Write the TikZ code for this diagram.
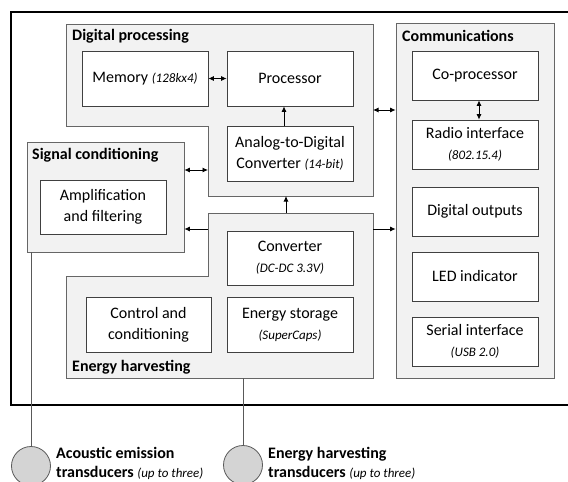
\documentclass[tikz,border=0pt]{standalone}
\usepackage{fontspec}
\setmainfont{Carlito}
\usetikzlibrary{arrows.meta}
\begin{document}
\begin{tikzpicture}[x=1pt,y=-1pt,
  group/.style={draw=black!60, fill=black!5, line width=0.8pt},
  blk/.style={draw=black!75, fill=white, line width=0.8pt, align=center, inner sep=0pt,
    font=\fontsize{16}{21}\selectfont},
  gtitle/.style={anchor=west, inner sep=0pt, font=\bfseries\fontsize{16}{20}\selectfont},
  conn/.style={-{Latex[length=5.5pt,width=5pt]}, line width=0.8pt},
  bi/.style={{Latex[length=5.5pt,width=5pt]}-{Latex[length=5.5pt,width=5pt]}, line width=0.8pt},
  wire/.style={draw=black!65, line width=0.8pt},
  trans/.style={circle, draw=black!65, fill=black!17, line width=0.8pt, minimum size=39pt, inner sep=0pt},
  tlabel/.style={anchor=west, align=left, inner sep=0pt, font=\fontsize{16}{19}\selectfont}
]
\newcommand{\sm}[1]{{\fontsize{13}{16}\selectfont\itshape #1}}
\useasboundingbox (0,0) rectangle (568,482);

\node[trans] (t1) at (31,466) {};
\node[trans] (t2) at (243,465) {};

% outer frame
\draw[line width=1.6pt] (11,12) rectangle (590,405);

% Digital processing group
\draw[group] (66,24) -- (373,24) -- (373,196) -- (208,196) -- (208,126) -- (66,126) -- cycle;
\node[gtitle] (dpt) at (72,36) {Digital processing};

% Signal conditioning group
\node[group, minimum width=157pt, minimum height=110pt, inner sep=0pt] (sc) at (105.5,197) {};
\node[gtitle] (sct) at (32,155) {Signal conditioning};

% Energy harvesting group
\draw[group] (208,213) -- (373,213) -- (373,378) -- (66,378) -- (66,276) -- (208,276) -- cycle;
\node[gtitle] (eht) at (72,367) {Energy harvesting};

% Communications group
\node[group, minimum width=158pt, minimum height=355pt, inner sep=0pt] (com) at (475,200.5) {};
\node[gtitle] (comt) at (402,36) {Communications};

% blocks
\node[blk, minimum width=126pt, minimum height=55pt] (mem) at (145,78.5) {Memory \sm{(128kx4)}};
\node[blk, minimum width=126pt, minimum height=55pt] (proc) at (290,78.5) {Processor};
\node[blk, minimum width=126pt, minimum height=55pt] (adc) at (290,153.5) {Analog-to-Digital\\Converter \sm{(14-bit)}};
\node[blk, minimum width=126pt, minimum height=54pt] (amp) at (103,207) {Amplification\\and filtering};
\node[blk, minimum width=126pt, minimum height=54pt] (conv) at (290,258) {Converter\\\sm{(DC-DC 3.3V)}};
\node[blk, minimum width=125pt, minimum height=55pt] (ctrl) at (148.5,324.5) {Control and\\conditioning};
\node[blk, minimum width=126pt, minimum height=55pt] (stor) at (290,324.5) {Energy storage\\\sm{(SuperCaps)}};
\node[blk, minimum width=126pt, minimum height=49pt] (cop) at (475,75.5) {Co-processor};
\node[blk, minimum width=126pt, minimum height=49pt] (radio) at (475,144.5) {Radio interface\\\sm{(802.15.4)}};
\node[blk, minimum width=126pt, minimum height=49pt] (dout) at (475,211.5) {Digital outputs};
\node[blk, minimum width=126pt, minimum height=49pt] (led) at (475,276.5) {LED indicator};
\node[blk, minimum width=126pt, minimum height=49pt] (ser) at (475,341.5) {Serial interface\\\sm{(USB 2.0)}};

% connector end coordinates on group outlines
\coordinate (dpL) at (208,170);
\coordinate (dpR) at (373,110);
\coordinate (dpB) at (286,196);
\coordinate (ehT) at (286,213);
\coordinate (ehL) at (208,229);
\coordinate (ehR) at (373,229);
\coordinate (ehB) at (243,378);
\coordinate (scB) at (31,252);

% connectors
\draw[bi] (mem.east) -- (proc.west);
\draw[conn] (adc.north -| 284,0) -- (proc.south -| 284,0);
\draw[bi] (sc.east |- dpL) -- (dpL);
\draw[conn] (ehL) -- (sc.east |- ehL);
\draw[conn] (ehT) -- (dpB);
\draw[bi] (dpR) -- (com.west |- dpR);
\draw[conn] (ehR) -- (com.west |- ehR);
\draw[bi] ([xshift=4pt]cop.south) -- ([xshift=4pt]radio.north);

% wires
\draw[wire] (scB) -- (t1.north);
\draw[wire] (ehB) -- (t2.north);

% transducer labels
\node[tlabel] (l1) at (56,463.5) {\textbf{Acoustic emission}\\\textbf{transducers} \sm{(up to three)}};
\node[tlabel] (l2) at (268,463.5) {\textbf{Energy harvesting}\\\textbf{transducers} \sm{(up to three)}};
\end{tikzpicture}
\end{document}
